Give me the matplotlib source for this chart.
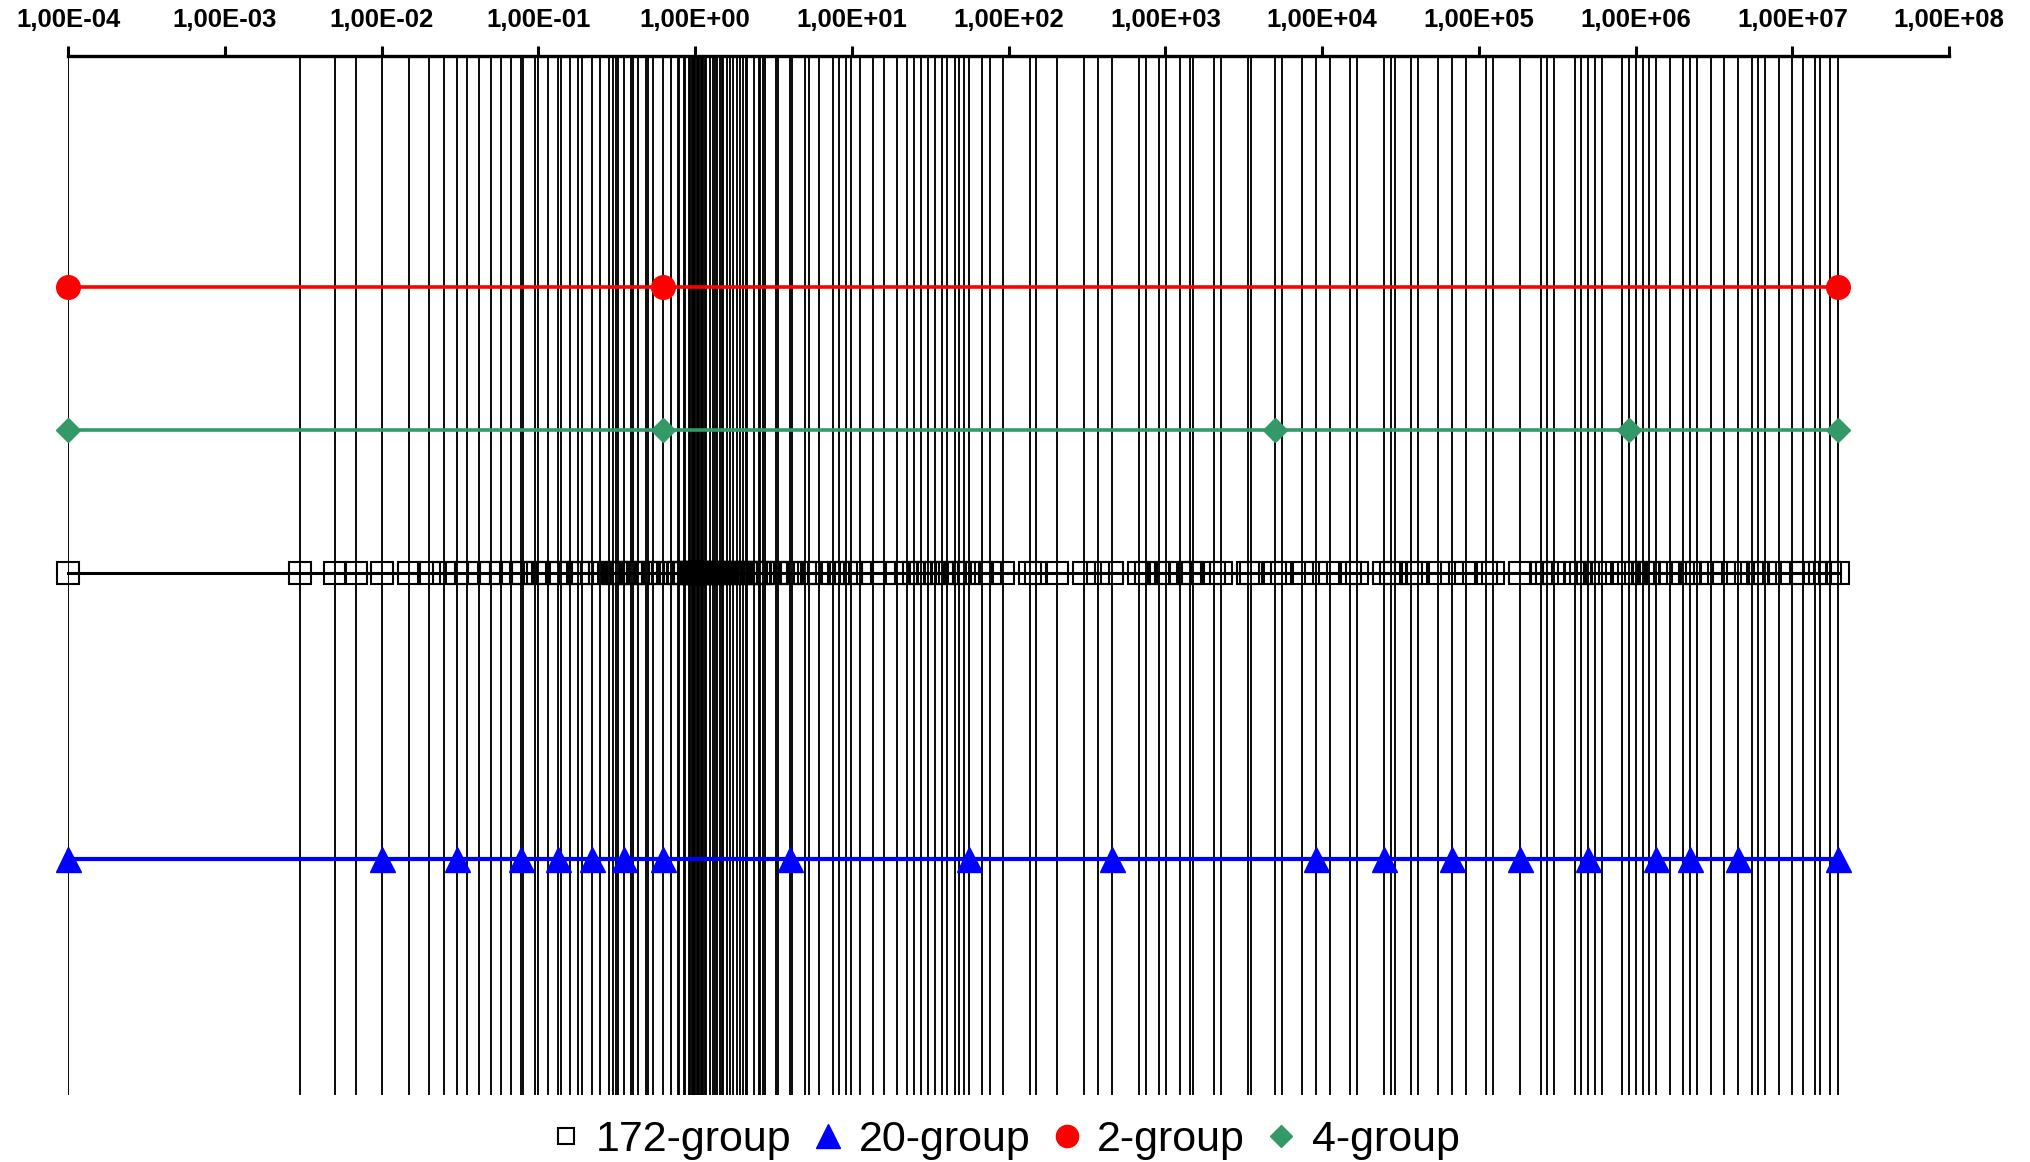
import matplotlib
matplotlib.use("Agg")
import matplotlib.pyplot as plt
from matplotlib.lines import Line2D
from matplotlib.ticker import FixedLocator, FuncFormatter, NullLocator

# group boundaries (eV), lowest one shown at the axis start
groups_172 = [
    1.0e-4, 3.0e-3, 5.0e-3, 6.9e-3, 1.0e-2, 1.5e-2, 2.0e-2, 2.5e-2, 3.0e-2, 3.5e-2,
    4.2e-2, 5.0e-2, 5.8e-2, 6.7e-2, 7.7e-2, 8.0e-2, 9.5e-2, 0.1, 0.115, 0.134,
    0.14, 0.16, 0.18, 0.189, 0.22, 0.248, 0.28, 0.3, 0.3145, 0.32,
    0.35, 0.391, 0.4, 0.433, 0.485, 0.5, 0.54, 0.625, 0.705, 0.78,
    0.79, 0.85, 0.86, 0.91, 0.93, 0.95, 0.972, 0.986, 0.996, 1.02,
    1.035, 1.045, 1.071, 1.097, 1.11, 1.12535, 1.15, 1.17, 1.235, 1.3,
    1.3375, 1.37, 1.44498, 1.475, 1.5, 1.59, 1.67, 1.755, 1.84, 1.93,
    2.02, 2.1, 2.13, 2.36, 2.55, 2.6, 2.72, 2.76792, 3.3, 3.38075,
    4.0, 4.12925, 5.04348, 5.34643, 6.16012, 7.52398, 8.31529, 9.18981, 9.90555, 11.2245,
    13.7096, 15.9283, 19.4548, 22.6033, 24.9805, 27.6077, 30.5113, 33.7201, 37.2665, 40.169,
    45.5174, 48.2516, 51.578, 55.5951, 67.904, 75.6736, 91.6609, 136.742, 148.625, 203.995,
    304.325, 371.703, 453.999, 677.287, 748.518, 914.242, 1010.39, 1234.1, 1433.82, 1507.33,
    2034.68, 2248.67, 3354.63, 3526.62, 5004.51, 5530.84, 7465.86, 9118.82, 11137.8, 15034.4,
    16615.6, 24787.5, 27394.4, 29283.0, 36978.6, 40867.7, 55165.6, 67379.5, 82297.5, 1.1109e5,
    1.22773e5, 1.83156e5, 2.47235e5, 2.73237e5, 3.01974e5, 4.07622e5, 4.50492e5, 4.97871e5, 5.50232e5, 6.08101e5,
    8.2085e5, 9.0718e5, 1.00259e6, 1.10803e6, 1.22456e6, 1.35335e6, 1.65299e6, 2.01897e6, 2.2313e6, 2.46597e6,
    3.01194e6, 3.67879e6, 4.49329e6, 5.48812e6, 6.06531e6, 6.7032e6, 8.18731e6, 1.0e7, 1.16183e7, 1.38403e7,
    1.49182e7, 1.73325e7, 1.96403e7,
]
groups_20 = [
    1.0e-4, 1.0e-2, 3.0e-2, 7.7e-2, 0.134, 0.22, 0.35, 0.625, 4.0, 55.5951,
    453.999, 9118.82, 24787.5, 67379.5, 1.83156e5, 4.97871e5, 1.35335e6, 2.2313e6, 4.49329e6, 1.96403e7,
]
groups_2 = [1.0e-4, 0.625, 1.96403e7]
groups_4 = [1.0e-4, 0.625, 5.0e3, 9.0718e5, 1.96403e7]

decades = [10.0 ** k for k in range(-4, 9)]
names = ["172-group", "20-group", "2-group", "4-group"]

# vertical slot of each series
y_lo, y_hi = -1.652, 5.613
lvl_2, lvl_4, lvl_172, lvl_20 = 4, 3, 2, 0

plt.rcParams['font.family'] = ['Liberation Sans', 'DejaVu Sans']

fig = plt.figure(figsize=(20.31, 11.62), dpi=100)
ax = fig.add_axes([0.0336, 0.0577, 0.9261, 0.8941])
ax.set_xscale('log')
ax.set_xlim(1e-4, 1e8)
ax.set_ylim(y_lo, y_hi)

ax.vlines(groups_172, y_lo, y_hi, color='black', lw=1.35, zorder=1)

green = '#339966'
ax.plot(groups_2, [lvl_2] * len(groups_2), color='red', lw=2.6,
        marker='o', ms=17, zorder=3, clip_on=False)
ax.plot(groups_4, [lvl_4] * len(groups_4), color=green, lw=2.6,
        marker='D', ms=12, zorder=3, clip_on=False)
ax.plot(groups_172, [lvl_172] * len(groups_172), color='black', lw=2.2,
        marker='s', ms=16, mfc='none', mec='black', mew=1.5, zorder=3, clip_on=False)
ax.plot(groups_20, [lvl_20] * len(groups_20), color='blue', lw=3.0,
        marker='^', ms=18, zorder=3, clip_on=False)

for side in ['left', 'right', 'bottom']:
    ax.spines[side].set_visible(False)
ax.spines['top'].set_linewidth(2.4)

ax.xaxis.set_ticks_position('top')
ax.xaxis.set_major_locator(FixedLocator(decades))
ax.xaxis.set_minor_locator(NullLocator())
ax.xaxis.set_major_formatter(FuncFormatter(lambda v, pos: f"{v:.2E}".replace(".", ",")))
ax.tick_params(axis='x', which='major', direction='out', length=7, width=2.2,
               pad=10, labelsize=18.5)
plt.setp(ax.get_xticklabels(), fontweight='bold')
ax.set_yticks([])

handles = [
    Line2D([], [], ls='none', marker='s', ms=12, mfc='none', mec='black', mew=1.5),
    Line2D([], [], ls='none', marker='^', ms=17, color='blue'),
    Line2D([], [], ls='none', marker='o', ms=16, color='red'),
    Line2D([], [], ls='none', marker='D', ms=11, color=green),
]
fig.legend(handles, names, loc='center', bbox_to_anchor=(0.496, 0.019), ncol=4,
           frameon=False, fontsize=31, handlelength=0.5, handletextpad=0.45,
           columnspacing=0.6, borderpad=0, borderaxespad=0)

fig.savefig('out.png', dpi=100)
